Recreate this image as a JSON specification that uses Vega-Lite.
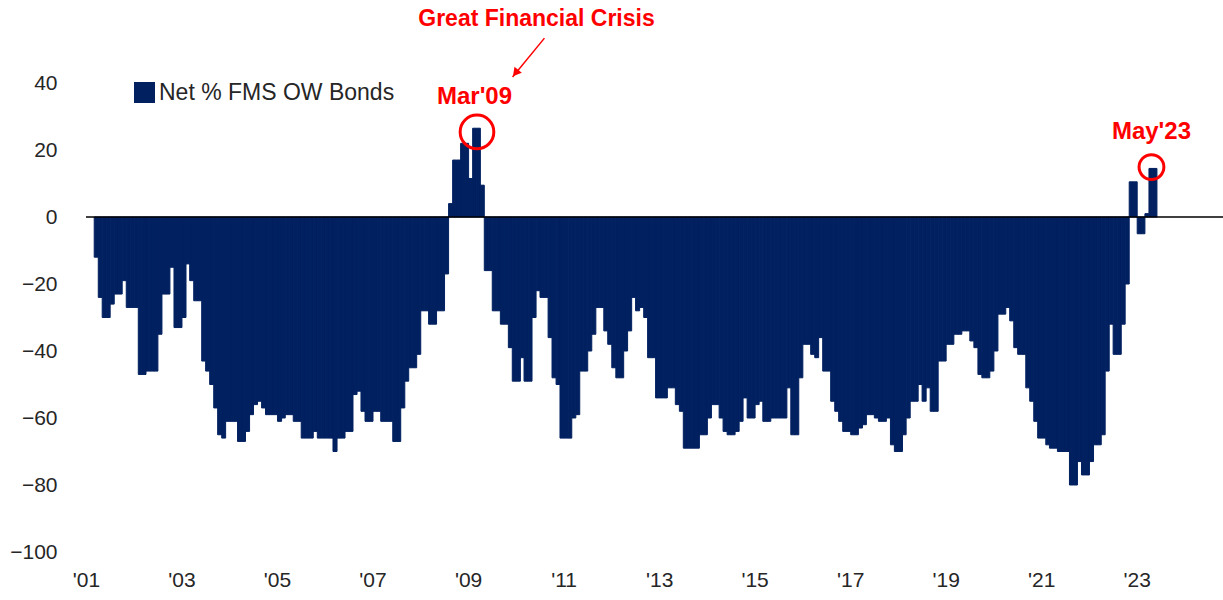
{
 "$schema": "https://vega.github.io/schema/vega-lite/v6.json",
 "width": 1137, "height": 469,
 "autosize": {"type": "none"},
 "padding": {"left": 86, "top": 83, "right": 0, "bottom": 48},
 "background": "white",
 "config": {"view": {"stroke": null}, "font": "Liberation Sans"},
 "datasets": {
  "fms": [
   {"d":"2001-03-01","v":-12},{"d":"2001-04-01","v":-24},{"d":"2001-05-01","v":-30},{"d":"2001-06-01","v":-30},{"d":"2001-07-01","v":-26},{"d":"2001-08-01","v":-23},{"d":"2001-09-01","v":-23},{"d":"2001-10-01","v":-19},{"d":"2001-11-01","v":-27},{"d":"2001-12-01","v":-27},
   {"d":"2002-01-01","v":-27},{"d":"2002-02-01","v":-47},{"d":"2002-03-01","v":-47},{"d":"2002-04-01","v":-46},{"d":"2002-05-01","v":-46},{"d":"2002-06-01","v":-46},{"d":"2002-07-01","v":-35},{"d":"2002-08-01","v":-23},{"d":"2002-09-01","v":-23},{"d":"2002-10-01","v":-15},{"d":"2002-11-01","v":-33},{"d":"2002-12-01","v":-33},
   {"d":"2003-01-01","v":-30},{"d":"2003-02-01","v":-14},{"d":"2003-03-01","v":-19},{"d":"2003-04-01","v":-25},{"d":"2003-05-01","v":-25},{"d":"2003-06-01","v":-43},{"d":"2003-07-01","v":-46},{"d":"2003-08-01","v":-50},{"d":"2003-09-01","v":-57},{"d":"2003-10-01","v":-65},{"d":"2003-11-01","v":-66},{"d":"2003-12-01","v":-61},
   {"d":"2004-01-01","v":-61},{"d":"2004-02-01","v":-61},{"d":"2004-03-01","v":-67},{"d":"2004-04-01","v":-67},{"d":"2004-05-01","v":-64},{"d":"2004-06-01","v":-59},{"d":"2004-07-01","v":-56},{"d":"2004-08-01","v":-55},{"d":"2004-09-01","v":-57},{"d":"2004-10-01","v":-59},{"d":"2004-11-01","v":-59},{"d":"2004-12-01","v":-59},
   {"d":"2005-01-01","v":-61},{"d":"2005-02-01","v":-60},{"d":"2005-03-01","v":-59},{"d":"2005-04-01","v":-59},{"d":"2005-05-01","v":-61},{"d":"2005-06-01","v":-61},{"d":"2005-07-01","v":-66},{"d":"2005-08-01","v":-66},{"d":"2005-09-01","v":-66},{"d":"2005-10-01","v":-64},{"d":"2005-11-01","v":-66},{"d":"2005-12-01","v":-66},
   {"d":"2006-01-01","v":-66},{"d":"2006-02-01","v":-66},{"d":"2006-03-01","v":-70},{"d":"2006-04-01","v":-66},{"d":"2006-05-01","v":-66},{"d":"2006-06-01","v":-64},{"d":"2006-07-01","v":-64},{"d":"2006-08-01","v":-53},{"d":"2006-09-01","v":-52},{"d":"2006-10-01","v":-58},{"d":"2006-11-01","v":-61},{"d":"2006-12-01","v":-61},
   {"d":"2007-01-01","v":-58},{"d":"2007-02-01","v":-58},{"d":"2007-03-01","v":-61},{"d":"2007-04-01","v":-61},{"d":"2007-05-01","v":-61},{"d":"2007-06-01","v":-67},{"d":"2007-07-01","v":-67},{"d":"2007-08-01","v":-57},{"d":"2007-09-01","v":-49},{"d":"2007-10-01","v":-45},{"d":"2007-11-01","v":-45},{"d":"2007-12-01","v":-41},
   {"d":"2008-01-01","v":-28},{"d":"2008-02-01","v":-28},{"d":"2008-03-01","v":-32},{"d":"2008-04-01","v":-32},{"d":"2008-05-01","v":-28},{"d":"2008-06-01","v":-28},{"d":"2008-07-01","v":-17},{"d":"2008-08-01","v":4},{"d":"2008-09-01","v":17},{"d":"2008-10-01","v":17},{"d":"2008-11-01","v":22},{"d":"2008-12-01","v":22},
   {"d":"2009-01-01","v":11.5},{"d":"2009-02-01","v":26.5},{"d":"2009-03-01","v":26.5},{"d":"2009-04-01","v":9.5},{"d":"2009-05-01","v":-16},{"d":"2009-06-01","v":-16},{"d":"2009-07-01","v":-28},{"d":"2009-08-01","v":-28},{"d":"2009-09-01","v":-32},{"d":"2009-10-01","v":-32},{"d":"2009-11-01","v":-39},{"d":"2009-12-01","v":-49},
   {"d":"2010-01-01","v":-49},{"d":"2010-02-01","v":-42},{"d":"2010-03-01","v":-49},{"d":"2010-04-01","v":-49},{"d":"2010-05-01","v":-30},{"d":"2010-06-01","v":-22},{"d":"2010-07-01","v":-24},{"d":"2010-08-01","v":-24},{"d":"2010-09-01","v":-36},{"d":"2010-10-01","v":-48},{"d":"2010-11-01","v":-50},{"d":"2010-12-01","v":-66},
   {"d":"2011-01-01","v":-66},{"d":"2011-02-01","v":-66},{"d":"2011-03-01","v":-60},{"d":"2011-04-01","v":-59},{"d":"2011-05-01","v":-46},{"d":"2011-06-01","v":-46},{"d":"2011-07-01","v":-40},{"d":"2011-08-01","v":-35},{"d":"2011-09-01","v":-27},{"d":"2011-10-01","v":-27},{"d":"2011-11-01","v":-34},{"d":"2011-12-01","v":-38},
   {"d":"2012-01-01","v":-45},{"d":"2012-02-01","v":-48},{"d":"2012-03-01","v":-48},{"d":"2012-04-01","v":-40},{"d":"2012-05-01","v":-34},{"d":"2012-06-01","v":-24},{"d":"2012-07-01","v":-28},{"d":"2012-08-01","v":-27},{"d":"2012-09-01","v":-30},{"d":"2012-10-01","v":-42},{"d":"2012-11-01","v":-42},{"d":"2012-12-01","v":-54},
   {"d":"2013-01-01","v":-54},{"d":"2013-02-01","v":-54},{"d":"2013-03-01","v":-51},{"d":"2013-04-01","v":-51},{"d":"2013-05-01","v":-56},{"d":"2013-06-01","v":-58},{"d":"2013-07-01","v":-69},{"d":"2013-08-01","v":-69},{"d":"2013-09-01","v":-69},{"d":"2013-10-01","v":-69},{"d":"2013-11-01","v":-65},{"d":"2013-12-01","v":-65},
   {"d":"2014-01-01","v":-60},{"d":"2014-02-01","v":-56},{"d":"2014-03-01","v":-56},{"d":"2014-04-01","v":-60},{"d":"2014-05-01","v":-64},{"d":"2014-06-01","v":-65},{"d":"2014-07-01","v":-65},{"d":"2014-08-01","v":-64},{"d":"2014-09-01","v":-61},{"d":"2014-10-01","v":-54},{"d":"2014-11-01","v":-60},{"d":"2014-12-01","v":-60},
   {"d":"2015-01-01","v":-56},{"d":"2015-02-01","v":-55},{"d":"2015-03-01","v":-61},{"d":"2015-04-01","v":-61},{"d":"2015-05-01","v":-60},{"d":"2015-06-01","v":-60},{"d":"2015-07-01","v":-60},{"d":"2015-08-01","v":-60},{"d":"2015-09-01","v":-51},{"d":"2015-10-01","v":-65},{"d":"2015-11-01","v":-65},{"d":"2015-12-01","v":-48},
   {"d":"2016-01-01","v":-38},{"d":"2016-02-01","v":-38},{"d":"2016-03-01","v":-41},{"d":"2016-04-01","v":-42},{"d":"2016-05-01","v":-36},{"d":"2016-06-01","v":-46},{"d":"2016-07-01","v":-46},{"d":"2016-08-01","v":-55},{"d":"2016-09-01","v":-58},{"d":"2016-10-01","v":-61},{"d":"2016-11-01","v":-64},{"d":"2016-12-01","v":-64},
   {"d":"2017-01-01","v":-65},{"d":"2017-02-01","v":-65},{"d":"2017-03-01","v":-63},{"d":"2017-04-01","v":-62},{"d":"2017-05-01","v":-59},{"d":"2017-06-01","v":-59},{"d":"2017-07-01","v":-60},{"d":"2017-08-01","v":-61},{"d":"2017-09-01","v":-61},{"d":"2017-10-01","v":-60},{"d":"2017-11-01","v":-68},{"d":"2017-12-01","v":-70},
   {"d":"2018-01-01","v":-70},{"d":"2018-02-01","v":-65},{"d":"2018-03-01","v":-60},{"d":"2018-04-01","v":-55},{"d":"2018-05-01","v":-55},{"d":"2018-06-01","v":-50},{"d":"2018-07-01","v":-55},{"d":"2018-08-01","v":-51},{"d":"2018-09-01","v":-58},{"d":"2018-10-01","v":-58},{"d":"2018-11-01","v":-43},{"d":"2018-12-01","v":-43},
   {"d":"2019-01-01","v":-38},{"d":"2019-02-01","v":-38},{"d":"2019-03-01","v":-35},{"d":"2019-04-01","v":-35},{"d":"2019-05-01","v":-34},{"d":"2019-06-01","v":-34},{"d":"2019-07-01","v":-37},{"d":"2019-08-01","v":-39},{"d":"2019-09-01","v":-47},{"d":"2019-10-01","v":-48},{"d":"2019-11-01","v":-48},{"d":"2019-12-01","v":-46},
   {"d":"2020-01-01","v":-40},{"d":"2020-02-01","v":-29},{"d":"2020-03-01","v":-29},{"d":"2020-04-01","v":-27},{"d":"2020-05-01","v":-31},{"d":"2020-06-01","v":-39},{"d":"2020-07-01","v":-41},{"d":"2020-08-01","v":-41},{"d":"2020-09-01","v":-51},{"d":"2020-10-01","v":-55},{"d":"2020-11-01","v":-61},{"d":"2020-12-01","v":-66},
   {"d":"2021-01-01","v":-66},{"d":"2021-02-01","v":-68},{"d":"2021-03-01","v":-69},{"d":"2021-04-01","v":-69},{"d":"2021-05-01","v":-70},{"d":"2021-06-01","v":-70},{"d":"2021-07-01","v":-70},{"d":"2021-08-01","v":-80},{"d":"2021-09-01","v":-80},{"d":"2021-10-01","v":-73},{"d":"2021-11-01","v":-77},{"d":"2021-12-01","v":-77},
   {"d":"2022-01-01","v":-73},{"d":"2022-02-01","v":-68},{"d":"2022-03-01","v":-68},{"d":"2022-04-01","v":-65},{"d":"2022-05-01","v":-46},{"d":"2022-06-01","v":-32},{"d":"2022-07-01","v":-41},{"d":"2022-08-01","v":-41},{"d":"2022-09-01","v":-32},{"d":"2022-10-01","v":-20},{"d":"2022-11-01","v":10.5},{"d":"2022-12-01","v":10.5},
   {"d":"2023-01-01","v":-5},{"d":"2023-02-01","v":-5},{"d":"2023-03-01","v":1},{"d":"2023-04-01","v":14.5},{"d":"2023-05-01","v":14.5}
  ]
 },
 "layer": [
  {
   "data": {"name": "fms"},
   "mark": {"type": "bar", "binSpacing": 0, "strokeWidth": 1, "stroke": "#002060"},
   "encoding": {
    "x": {"field": "d", "timeUnit": "utcyearmonth", "type": "temporal",
      "scale": {"type": "utc", "domain": [{"year": 2001, "month": 1, "date": 1, "utc": true}, {"year": 2024, "month": 10, "date": 22, "utc": true}]},
      "axis": {"title": null, "values": [
        {"year": 2001, "month": 1, "date": 1, "utc": true},{"year": 2003, "month": 1, "date": 1, "utc": true},{"year": 2005, "month": 1, "date": 1, "utc": true},{"year": 2007, "month": 1, "date": 1, "utc": true},{"year": 2009, "month": 1, "date": 1, "utc": true},{"year": 2011, "month": 1, "date": 1, "utc": true},{"year": 2013, "month": 1, "date": 1, "utc": true},{"year": 2015, "month": 1, "date": 1, "utc": true},{"year": 2017, "month": 1, "date": 1, "utc": true},{"year": 2019, "month": 1, "date": 1, "utc": true},{"year": 2021, "month": 1, "date": 1, "utc": true},{"year": 2023, "month": 1, "date": 1, "utc": true}],
        "labelExpr": "\"'\" + utcFormat(datum.value, '%y')",
        "domain": false, "ticks": false, "grid": false, "labelFlush": false, "labelOverlap": false,
        "labelFontSize": 21, "labelColor": "#262626", "labelPadding": 17, "labelFont": "Liberation Sans"}},
    "y": {"field": "v", "type": "quantitative", "scale": {"domain": [-100, 40], "nice": false},
      "axis": {"title": null, "values": [-100, -80, -60, -40, -20, 0, 20, 40], "domain": false, "ticks": false, "grid": false,
        "labelFontSize": 21, "labelColor": "#262626", "labelPadding": 29, "labelFont": "Liberation Sans"}},
    "color": {"datum": "Net % FMS OW Bonds", "type": "nominal", "scale": {"range": ["#002060"]},
      "legend": {"title": null, "orient": "none", "legendX": 47, "legendY": -2, "symbolType": "square", "symbolSize": 440,
        "labelFontSize": 23, "labelFont": "Liberation Sans", "labelColor": "#262626", "labelOffset": 3, "labelLimit": 500, "padding": 0, "symbolStrokeWidth": 0}}
   }
  },
  {
   "data": {"values": [{}]},
   "mark": {"type": "rule", "color": "#000000", "strokeWidth": 1.5},
   "encoding": {"y": {"datum": 0, "type": "quantitative", "scale": {"domain": [-100, 40], "nice": false}}}
  },
  {
   "data": {"values": [{"d": "2010-08-08", "v": 53.4, "d2": "2009-12-07", "v2": 41.8}]},
   "mark": {"type": "rule", "color": "#FF0000", "strokeWidth": 1.5},
   "encoding": {
    "x": {"field": "d", "type": "temporal", "scale": {"type": "utc", "domain": [{"year": 2001, "month": 1, "date": 1, "utc": true}, {"year": 2024, "month": 10, "date": 22, "utc": true}]}, "axis": {"title": null}},
    "x2": {"field": "d2"},
    "y": {"field": "v", "type": "quantitative", "scale": {"domain": [-100, 40], "nice": false}, "axis": {"title": null}},
    "y2": {"field": "v2"}
   }
  },
  {
   "data": {"values": [{"d": "2009-12-30", "v": 43.0}]},
   "mark": {"type": "point", "shape": "triangle-up", "filled": true, "color": "#FF0000", "size": 90, "angle": 219, "opacity": 1},
   "encoding": {
    "x": {"field": "d", "type": "temporal", "scale": {"type": "utc", "domain": [{"year": 2001, "month": 1, "date": 1, "utc": true}, {"year": 2024, "month": 10, "date": 22, "utc": true}]}, "axis": {"title": null}},
    "y": {"field": "v", "type": "quantitative", "scale": {"domain": [-100, 40], "nice": false}, "axis": {"title": null}}
   }
  },
  {
   "data": {"values": [{"d": "2009-03-10", "v": 25.4}]},
   "mark": {"type": "point", "shape": "circle", "filled": false, "stroke": "#FF0000", "strokeWidth": 3, "size": 1134, "opacity": 1},
   "encoding": {
    "x": {"field": "d", "type": "temporal", "scale": {"type": "utc", "domain": [{"year": 2001, "month": 1, "date": 1, "utc": true}, {"year": 2024, "month": 10, "date": 22, "utc": true}]}, "axis": {"title": null}},
    "y": {"field": "v", "type": "quantitative", "scale": {"domain": [-100, 40], "nice": false}, "axis": {"title": null}}
   }
  },
  {
   "data": {"values": [{"d": "2023-04-24", "v": 14.9}]},
   "mark": {"type": "point", "shape": "circle", "filled": false, "stroke": "#FF0000", "strokeWidth": 3, "size": 616, "opacity": 1},
   "encoding": {
    "x": {"field": "d", "type": "temporal", "scale": {"type": "utc", "domain": [{"year": 2001, "month": 1, "date": 1, "utc": true}, {"year": 2024, "month": 10, "date": 22, "utc": true}]}, "axis": {"title": null}},
    "y": {"field": "v", "type": "quantitative", "scale": {"domain": [-100, 40], "nice": false}, "axis": {"title": null}}
   }
  },
  {
   "data": {"values": [{"d": "2009-02-19", "v": 35.8, "t": "Mar'09"}, {"d": "2023-04-24", "v": 25.4, "t": "May'23"}]},
   "mark": {"type": "text", "color": "#FF0000", "fontSize": 24, "fontWeight": "bold", "font": "Liberation Sans", "align": "center", "baseline": "middle"},
   "encoding": {
    "x": {"field": "d", "type": "temporal", "scale": {"type": "utc", "domain": [{"year": 2001, "month": 1, "date": 1, "utc": true}, {"year": 2024, "month": 10, "date": 22, "utc": true}]}, "axis": {"title": null}},
    "y": {"field": "v", "type": "quantitative", "scale": {"domain": [-100, 40], "nice": false}, "axis": {"title": null}},
    "text": {"field": "t"}
   }
  },
  {
   "data": {"values": [{"d": "2010-06-08", "v": 59.1, "t": "Great Financial Crisis"}]},
   "mark": {"type": "text", "color": "#FF0000", "fontSize": 23, "fontWeight": "bold", "font": "Liberation Sans", "align": "center", "baseline": "middle"},
   "encoding": {
    "x": {"field": "d", "type": "temporal", "scale": {"type": "utc", "domain": [{"year": 2001, "month": 1, "date": 1, "utc": true}, {"year": 2024, "month": 10, "date": 22, "utc": true}]}, "axis": {"title": null}},
    "y": {"field": "v", "type": "quantitative", "scale": {"domain": [-100, 40], "nice": false}, "axis": {"title": null}},
    "text": {"field": "t"}
   }
  }
 ]
}
